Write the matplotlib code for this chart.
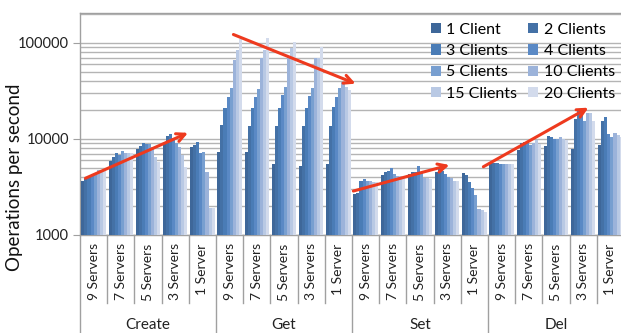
import numpy as np
import matplotlib
matplotlib.use("Agg")
import matplotlib.pyplot as plt
from matplotlib.ticker import LogLocator, NullFormatter
import matplotlib.transforms as mtransforms

plt.rcParams['font.family'] = ['Lato', 'DejaVu Sans']

operations = ["Create", "Get", "Set", "Del"]
servers = ["9 Servers", "7 Servers", "5 Servers", "3 Servers", "1 Server"]
clients = ["1 Client", "2 Clients", "3 Clients", "4 Clients",
           "5 Clients", "10 Clients", "15 Clients", "20 Clients"]

# ops/sec, one row per server setup, one column per client count
create_ops = [
    [3680, 3830, 4050, 4320, 4460, 4750, 4750, 4670],
    [5940, 6540, 7100, 6810, 7440, 7200, 7200, 7100],
    [7810, 8450, 9150, 8810, 8810, 8310, 6540, 5800],
    [9020, 10740, 11270, 10170, 9020, 8310, 6810, 5070],
    [8310, 8660, 9370, 7100, 7370, 4570, 1900, 1900],
]
get_ops = [
    [7400, 14000, 20800, 27700, 34000, 66500, 85500, 108800],
    [7400, 13700, 20800, 27400, 32800, 69800, 85500, 112700],
    [5500, 13500, 21000, 28700, 35200, 72400, 88700, 103600],
    [5200, 13500, 21000, 28000, 34000, 69800, 69800, 91900],
    [5500, 13500, 21500, 27700, 34000, 39700, 34400, 32400],
]
set_ops = [
    [2650, 2720, 3680, 3800, 3680, 3650, 3590, 3540],
    [4220, 4500, 4640, 5020, 4290, 4150, 4150, 4050],
    [4290, 4500, 4570, 5270, 4500, 3900, 3900, 3830],
    [4500, 4870, 4640, 4290, 4050, 3900, 3650, 3650],
    [4390, 4220, 3590, 3065, 2610, 1865, 1820, 1750],
]
del_ops = [
    [5600, 5600, 5600, 5500, 5500, 5550, 5550, 5500],
    [7700, 9000, 9400, 9600, 8700, 9000, 9700, 8800],
    [8500, 10820, 10570, 10000, 9930, 10570, 9930, 9760],
    [7870, 16160, 20540, 19810, 15400, 18660, 18660, 15290],
    [8660, 15400, 16750, 11410, 10490, 11470, 11010, 10370],
]

# trend arrows: (x0, y0, x1, y1) in category index / ops-per-second units
trend_arrows = [
    (-0.3, 3900, 3.47, 11600),
    (5.14, 122600, 9.63, 37700),
    (9.55, 2870, 13.08, 5360),
    (14.33, 5140, 18.19, 21200),
]

colors = ['#3E6799', '#4471A6', '#4A7CB6', '#5A89C5',
          '#789FD0', '#9CB3DA', '#B9C9E4', '#D3DBEC']

data = np.vstack([create_ops, get_ops, set_ops, del_ops])  # 20 x 8
n_cat, n_ser = data.shape
x = np.arange(n_cat)
fill = 0.9
bw = fill / n_ser

fig = plt.figure(figsize=(6.21, 3.33), dpi=100)
ax = fig.add_axes([80 / 621, 1 - 235 / 333, 544 / 621, 222 / 333])

handles = []
for j in range(n_ser):
    offs = -fill / 2 + bw * (j + 0.5)
    b = ax.bar(x + offs, data[:, j], width=bw, color=colors[j], label=clients[j],
               zorder=3, linewidth=0)
    handles.append(b)

ax.set_yscale('log')
ax.set_ylim(1000, 10 ** 5.3125)
ax.set_xlim(-0.5, n_cat - 0.5)

ax.yaxis.set_minor_locator(LogLocator(base=10, subs=np.arange(2, 10), numticks=20))
ax.yaxis.set_minor_formatter(NullFormatter())
ax.set_yticks([1000, 10000, 100000])
ax.set_yticklabels(["1000", "10000", "100000"])
ax.tick_params(axis='y', which='major', length=5, color='#A0A0A0', labelsize=10.5,
               pad=3, labelcolor='#222222')
ax.tick_params(axis='y', which='minor', length=0)
ax.grid(True, which='both', axis='y', color='#B4B4B4', linewidth=1.0, zorder=0)
ax.set_axisbelow(True)

ax.set_xticks(x)
ax.set_xticklabels(servers * len(operations), rotation=90, va='top', ha='center')
ax.tick_params(axis='x', length=0, pad=6, labelsize=10, labelcolor='#222222')

for side in ['left', 'bottom', 'top']:
    ax.spines[side].set_color('#A0A0A0')
    ax.spines[side].set_linewidth(1.0)
ax.spines['right'].set_visible(False)

# separators below the axis
trans = mtransforms.blended_transform_factory(ax.transData, ax.transAxes)
cat_bottom = -(303 - 235) / 222
grp_bottom = -(333 - 235) / 222
for k in range(n_cat + 1):
    xb = k - 0.5
    yb = grp_bottom if k % len(servers) == 0 else cat_bottom
    ax.plot([xb, xb], [0, yb], color='#A0A0A0', lw=1.0, transform=trans,
            clip_on=False)

for g, name in enumerate(operations):
    xc = g * len(servers) + (len(servers) - 1) / 2
    ax.text(xc, -(325 - 235) / 222, name, transform=trans, ha='center',
            va='center', fontsize=11, color='#222222')

fig.text(15 / 621, 1 - 177 / 333, "Operations per second", rotation=90,
         ha='center', va='center', fontsize=13.5, color='#111111')

for x0, y0, x1, y1 in trend_arrows:
    ax.annotate("", xy=(x1, y1), xytext=(x0, y0),
                arrowprops=dict(arrowstyle='->', color='#EE3A1E', lw=2.2,
                                mutation_scale=15, shrinkA=0, shrinkB=0),
                zorder=5)

order = [0, 2, 4, 6, 1, 3, 5, 7]
ax.legend([handles[i] for i in order], [clients[i] for i in order], ncol=2,
          frameon=False, loc='upper left',
          bbox_to_anchor=(431 / 621, 1 - 23 / 333), bbox_transform=fig.transFigure,
          fontsize=11.5, handlelength=0.6, handleheight=0.6, handletextpad=0.35,
          labelspacing=0.45, columnspacing=0.7, borderpad=0, borderaxespad=0)

fig.savefig("out.png", dpi=100)
